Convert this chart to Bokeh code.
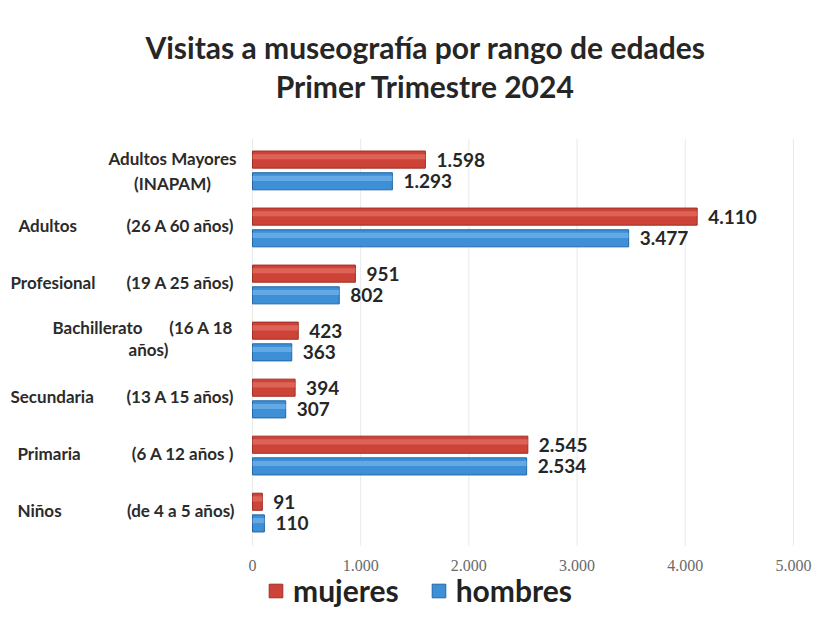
from bokeh.plotting import figure
from bokeh.models import Range1d, Legend, LegendItem, ColumnDataSource
from bokeh.core.properties import value
from bokeh.embed import file_html
from bokeh.resources import INLINE

# ---- data (top to bottom) ----
names = ["Adultos Mayores", "Adultos", "Profesional", "Bachillerato", "Secundaria", "Primaria", "Niños"]
ranges = ["(INAPAM)", "(26 A 60 años)", "(19 A 25 años)", "(16 A 18 años)", "(13 A 15 años)", "(6 A 12 años )", "(de 4 a 5 años)"]
mujeres = [1598, 4110, 951, 423, 394, 2545, 91]
hombres = [1293, 3477, 802, 363, 307, 2534, 110]
ticks = [0, 1000, 2000, 3000, 4000, 5000]
title1 = "Visitas a museografía por rango de edades"
title2 = "Primer Trimestre 2024"

def fmt(v):
    return f"{v:,}".replace(",", ".")

idx = list(range(len(names)))
OFF = 0.19
H = 0.30
Y_TOP, Y_BOT = -2.98, 7.84      # frame extent (category units)
GRID_TOP, GRID_BOT = -0.55, 6.58
TICK_Y = 6.93
TITLE_Y = [-2.156, -1.489]

src_m = ColumnDataSource(dict(y=[i - OFF for i in idx], v=mujeres, lab=[fmt(v) for v in mujeres],
                              hy=[i - OFF - 0.05 for i in idx]))
src_h = ColumnDataSource(dict(y=[i + OFF for i in idx], v=hombres, lab=[fmt(v) for v in hombres],
                              hy=[i + OFF - 0.05 for i in idx]))

p = figure(width=812, height=617, x_range=Range1d(-2329, 5176), y_range=Range1d(Y_BOT, Y_TOP),
           output_backend="svg", toolbar_location=None,
           min_border_left=0, min_border_right=0, min_border_top=0, min_border_bottom=0)
p.outline_line_color = None
p.background_fill_color = "white"
p.border_fill_color = "white"
p.xaxis.visible = False
p.yaxis.visible = False
p.xgrid.visible = False
p.ygrid.visible = False

# title (two centred lines)
p.text(x=[0, 0], y=TITLE_Y, text=[title1, title2], x_offset=173, text_align="center", text_baseline="middle",
       text_font=value("Lato"), text_font_style="bold", text_font_size="30px", text_color="#262626")

# faint vertical gridlines at the tick values
p.segment(x0=ticks, x1=ticks, y0=[GRID_TOP] * len(ticks), y1=[GRID_BOT] * len(ticks),
          line_color="#e9e9e9", line_width=1)
# tick labels
p.text(x=ticks, y=[TICK_Y] * len(ticks), text=[fmt(t) for t in ticks], text_align="center",
       text_baseline="middle", text_font=value("Liberation Serif"), text_font_size="16px", text_color="#6a6a6a")

RED, RED_D, RED_L = "#cd4337", "#9e2e24", "#e8796b"
BLUE, BLUE_D, BLUE_L = "#3d8fd6", "#2466a6", "#7dbbec"

r_m = p.hbar(y="y", right="v", left=0, height=H, source=src_m, fill_color=RED, line_color=RED_D, line_width=1)
p.hbar(y="hy", right="v", left=0, height=0.09, source=src_m, fill_color=RED_L, line_color=None, fill_alpha=0.6)
r_h = p.hbar(y="y", right="v", left=0, height=H, source=src_h, fill_color=BLUE, line_color=BLUE_D, line_width=1)
p.hbar(y="hy", right="v", left=0, height=0.09, source=src_h, fill_color=BLUE_L, line_color=None, fill_alpha=0.6)

for s in (src_m, src_h):
    p.text(x="v", y="y", text="lab", source=s, x_offset=11, text_align="left", text_baseline="middle",
           text_font=value("Lato"), text_font_style="bold", text_font_size="19px", text_color="#262626")

# category labels
lab_font = dict(text_font=value("Lato"), text_font_style="bold", text_font_size="17px", text_color="#2b2b2b")
# Adultos Mayores: centered two-line block
p.text(x=[0], y=[idx[0] - 0.21], text=[names[0]], x_offset=-80, text_align="center", text_baseline="middle", **lab_font)
p.text(x=[0], y=[idx[0] + 0.23], text=[ranges[0]], x_offset=-80, text_align="center", text_baseline="middle", **lab_font)
# Bachillerato: wrapped
p.text(x=[0], y=[idx[3] - 0.25], text=[names[3]], x_offset=-200, text_align="left", text_baseline="middle", **lab_font)
p.text(x=[0], y=[idx[3] - 0.25], text=[ranges[3].replace(" años)", "")], x_offset=-19, text_align="right", text_baseline="middle", **lab_font)
p.text(x=[0], y=[idx[3] + 0.14], text=["años)"], x_offset=-104, text_align="center", text_baseline="middle", **lab_font)
# others
others = [1, 2, 4, 5, 6]
left_px = {1: -234, 2: -242, 4: -242, 5: -235, 6: -235}
for i in others:
    p.text(x=[0], y=[i - 0.03], text=[names[i]], x_offset=left_px[i], text_align="left", text_baseline="middle", **lab_font)
    p.text(x=[0], y=[i - 0.03], text=[ranges[i]], x_offset=-18, text_align="right", text_baseline="middle", **lab_font)

legend = Legend(items=[LegendItem(label="mujeres", renderers=[r_m]), LegendItem(label="hombres", renderers=[r_h])],
                orientation="horizontal", location=(267, 9))
legend.label_text_font = "Lato"
legend.label_text_font_style = "bold"
legend.label_text_font_size = "30px"
legend.label_text_color = "#222222"
legend.glyph_width = 17
legend.glyph_height = 17
legend.label_standoff = 9
legend.spacing = 31
legend.background_fill_alpha = 0
legend.border_line_alpha = 0
legend.padding = 0
legend.margin = 0
p.add_layout(legend, "center")

open("out.html", "w").write(file_html(p, INLINE))
